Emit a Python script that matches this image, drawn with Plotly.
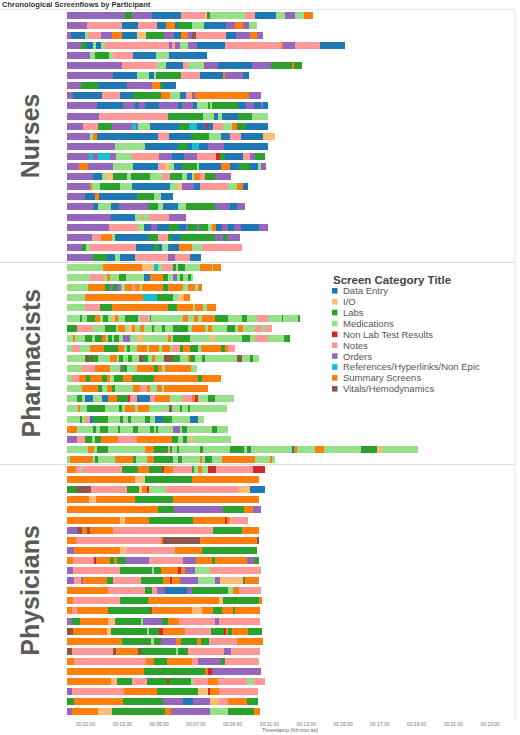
import plotly.graph_objects as go

# ---------------- data ----------------
categories = ["Data Entry", "I/O", "Labs", "Medications", "Non Lab Test Results", "Notes",
              "Orders", "References/Hyperlinks/Non Epic", "Summary Screens", "Vitals/Hemodynamics"]
codes = ["D", "I", "L", "M", "X", "N", "O", "R", "S", "V"]
colors = ["#1f77b4", "#ffbb78", "#2ca02c", "#98df8a", "#d62728", "#ff9896",
          "#9467bd", "#17becf", "#ff7f0e", "#8c564b"]
groups = ["Nurses", "Pharmacists", "Physicians"]
group_prefix = ["N", "P", "H"]

# each participant: sequence of screens "<code><end timestamp in seconds>"
nurses = [
    "O189 L211 O278 D371 N451 I458 L466 M580 N612 D683 M710 O745 M772 S803",
    "O64 N178 D230 N292 D322 S352 D363 L407 M446 D517 O548 S575 O592 M619",
    "O13 D59 M67 N111 O146 S180 D227 I257 L317 O350 D371 S396 O407 V420 N517 D550 O598 S620 O638",
    "O46 L61 D86 M95 D111 M124 N333 O341 N352 O368 M393 O423 D515 N697 S705 O744 N825 D907",
    "O75 M91 L138 M149 N216 D289 M333 D455",
    "O180 N292 M322 D379 N393 M448 O491 D604 O665 L733 S741 L765",
    "O151 D227 M267 D282 M289 L372 N432 D507 S515 O575 D594",
    "O46 L100 D195 O278 S303 L314 D354",
    "O21 D113 N173 D216 L307 S336 M368 D387 N407 O417 S595 O633",
    "O97 D184 O222 D235 O254 D300 O361 D376 O412 D423 M459 L466 M474 L559 D583 O611 D633 O637 D657",
    "O105 N330 L445 M480 D491 M504 D559 L604 M657",
    "O53 N100 L146 O213 R224 O233 M271 D365 L398 R423 D452 X461 D477 N510 M537 S553 L583 D657",
    "O75 M86 S97 D298 N333 D404 L463 M502 D532 N567 D640 I678",
    "O157 M254 D363 L390 D409 R430 D459 O513 D654",
    "O72 R83 O100 R140 O159 M213 N300 O341 D380 O423 N485 X499 L515 D575 N597 O613 L644",
    "O39 S67 O151 M216 D296 N320 I333 M350 D376 L423 M430 D502 S532 D561 L597 D624 M633 O648",
    "O86 D115 M126 I151 L195 M209 L271 M309 N336 L376 M390 D407 M415 S434 N450 L483 O535",
    "O75 S80 M108 L173 M213 D336 M358 I376 O415 D434 N526 M553 S575 D589",
    "O59 D91 S104 D227 L285 M307 D345",
    "O86 D102 M143 D170 O265 L298 M314 D361 M387 L483 O532 D553 O580",
    "O143 D220 M243 N252 M267 N333 O387",
    "O137 N230 M252 D274 O292 D333 L365 D387 O396 L423 O430 L461 M474 S485 D504 O524 D546 O567 D626 O654",
    "O80 N111 S146 M157 D265 L298 N330 L341 D368 L483 O510 L521 O564",
    "O48 L61 M75 N224 D282 L300 D309 M328 D365 S407 M441 N570",
    "O83 L129 D157 M173 D220 N328 O352 N401 D437",
]
pharmacists = [
    "M118 S243 I282 R298 M309 N347 L358 M363 L385 M434 S472 M477 S502",
    "M75 N122 M129 S140 M170 L191 M252 D271 S314 L330 M347 O358 M368 L379 M393 L407 M412",
    "M67 S124 L140 O151 L162 O176 M189 S211 N222 S238 M243 S314 L330 S379 M396 S417 M428 S441",
    "M57 S249 R292 L347 M361 I383 S401",
    "M57 N108 L146 S328 L358 S412 M417 S445 M455 S485",
    "M42 L50 M64 L91 S108 M118 L135 M148 I157 S165 M189 L233 M238 N267 M271 L274 M379 S396 M415 S426 M439 S483 L524 M570 L586 M619 N657 M700 L705 M754 L760",
    "L32 N86 M124 L162 M167 S189 M200 I211 S222 M238 S252 M276 L285 M309 L320 M347 L396 M407 S450 M461 S472 M521 L548 M559 S575 M613 N635 M646 N670",
    "M21 S26 M59 L80 M91 L113 S126 M135 L146 M154 L170 M184 O205 M227 I249 M330 S339 M347 L401 M466 I483 M570 L597 M613 N657 M709 L727",
    "M15 N42 M75 S122 L165 S187 M195 L205 M227 S260 M267 S300 M309 S336 M341 N368 L379 S401 L428 M437 S502 L515 S526 N548",
    "M57 L64 V70 L80 V86 L102 M140 S162 M170 L181 M198 L211 M235 V249 L265 M278 S287 M317 V347 L368 M396 S401 L417 M439 L450 M554 V572 M597 L608 M626",
    "M48 N91 S140 M173 O180 L195 M227 S282 L298 S309 M320 S404 M423",
    "M15 N39 S61 L75 S113 L129 S140 I146 M154 L184 S211 L282 S428 L439 S502",
    "M48 S102 L113 M129 S146 L157 M216 S238 N260 S271 M292 S309 M317 S461",
    "M32 L48 M59 D86 M113 D133 S162 L200 X205 N227 D271 N287 S336 M376 N407 S417 X428 M461 L483 M546",
    "M35 S42 M64 L124 M170 L178 M189 S222 M233 S267 M333 V341 M368 L374 M393 L401 M521",
    "M42 L50 M59 N75 D86 L135 M173 L184 M200 L209 M254 L271 M287 D314 L343 M401 D426 M448",
    "S32 M86 L93 M108 L135 M167 L173 M216 L230 M271 L282 M289 L298 M347 O368 M376 L390 M472 L488 M524",
    "O32 N59 L80 M91 L111 S167 N227 S341 L363 M379 L390 M401 I412 M535",
    "M67 S89 M97 L135 M254 S282 L328 N336 L341 M358 L365 M434 L445 M532 L580 M586 L600 M733 D741 S749 M809 S839 M959 L1010 I1026 M1144",
    "M10 S86 M91 L100 M157 S216 L224 M260 S285 L347 M363 L376 M434 S439 M450 L472 M504 S613 M662 S670 M678",
]
physicians = [
    "S28 N42 M48 N178 L230 S267 L311 X317 S347 N407 L415 M426 S439 M461 X485 N608 X644",
    "S222 I254 L409 S626",
    "L28 V78 N195 L235 I243 S260 X267 M322 N559 I597 D646",
    "S72 I93 S222 L347 S626",
    "S296 L350 O507 L578 S608 O633",
    "S173 I189 S267 L412 S515 X521 S532 I539 N589",
    "O32 V50 S64 V75 S151 N477 L570 S626",
    "S28 N309 S314 V434 S619 V626",
    "O24 S173 I195 N352 S439 L619",
    "S21 N89 X96 S140 L154 S162 L191 O267 N379 O420 S472 L481 S586 O611 L626",
    "O21 N173 L278 M285 L307 S361 X372 S385 O417 M466 N633",
    "O24 N46 O53 S129 L151 N241 L314 S336 X343 S368 O426 M483 O499 I575 L580 S626",
    "S133 N254 L278 N292 O320 D390 O407 L526 M542 S561 N633",
    "S21 N173 L263 S494 I510 L629 S635",
    "S17 N32 S135 L271 V276 S407 I439 S477 L504 S542 L548 S629",
    "O17 L42 S133 I157 L243 M249 O309 L328 S365 N483 O496 N629",
    "V21 S129 I143 L260 M267 L300 X314 S385 N470 L513 X517 S524 L537 S591 L635",
    "S180 L276 M282 L307 O354 S372 L423 S437 L463 N553 S640",
    "V15 N151 V159 S230 V241 L358 M363 L396 N513 O535 N629",
    "S24 N257 S282 L325 S409 N426 O502 L515 N626",
    "S252 L450 S461 X472 O633",
    "S143 I162 L211 N260 L328 X333 L404 M412 N461 S491 N586 M611 N644",
    "O17 N187 S292 L426 I461 X466 S494 N624",
    "L24 S184 L314 O379 D412 O466 I494 N526 S586 L624",
    "O17 S100 I148 L320 S339 O466 M524 L611 S629",
]
tick_seconds = [60, 180, 300, 420, 540, 660, 780, 900, 1020, 1140, 1260, 1380]
tick_labels = ["00:01:00", "00:03:00", "00:05:00", "00:07:00", "00:09:00", "00:11:00",
               "00:13:00", "00:15:00", "00:17:00", "00:19:00", "00:21:00", "00:23:00"]

# ---------------- build ----------------
W, H = 520, 735
ML, MR, MT, MB = 0, 5, 9.5, 17.5
PW, PH = W - ML - MR, H - MT - MB


def px(x):
    return (x - ML) / PW


def py(y):
    return 1 - (y - MT) / PH


row_ids, group_rows = [], []
segs = {c: {"y": [], "base": [], "x": []} for c in codes}
for pre, seqs in zip(group_prefix, [nurses, pharmacists, physicians]):
    first = len(row_ids)
    for i, s in enumerate(seqs):
        rid = f"{pre}{i + 1:02d}"
        row_ids.append(rid)
        prev = 0
        for tok in s.split():
            c, end = tok[0], int(tok[1:])
            segs[c]["y"].append(rid)
            segs[c]["base"].append(prev)
            segs[c]["x"].append(end - prev)
            prev = end
    group_rows.append((first, len(row_ids) - 1))

fig = go.Figure()
for c, name, col in zip(codes, categories, colors):
    fig.add_trace(go.Bar(
        orientation="h", y=segs[c]["y"], x=segs[c]["x"], base=segs[c]["base"],
        name=name, marker=dict(color=col, line=dict(width=0)), width=0.7,
        showlegend=False, hovertemplate=name + "<extra></extra>"))

n = len(row_ids)
shapes = []
shapes.append(dict(type="line", xref="paper", yref="paper", x0=0, x1=1, y0=py(9), y1=py(9),
                   line=dict(color="#e4e4e4", width=1)))
for first, last in group_rows[1:]:
    shapes.append(dict(type="line", xref="paper", yref="y", x0=0, x1=1, y0=first - 0.5, y1=first - 0.5,
                       line=dict(color="#dcdcdc", width=1)))
shapes.append(dict(type="line", xref="paper", yref="paper", x0=1, x1=1, y0=py(9), y1=py(719),
                   line=dict(color="#e4e4e4", width=1)))

annotations = []
for g, (first, last) in zip(groups, group_rows):
    annotations.append(dict(xref="paper", yref="y", x=px(30), y=(first + last) / 2, text=g,
                            textangle=-90, showarrow=False, xanchor="center", yanchor="middle",
                            font=dict(family="Liberation Sans", size=25, color="#5a5a5a", weight="bold")))

# legend (drawn manually for compact spacing)
annotations.append(dict(xref="paper", yref="paper", x=px(331), y=py(280), text="Screen Category Title",
                        showarrow=False, xanchor="left", yanchor="middle",
                        font=dict(family="Liberation Sans", size=11.5, color="#444444", weight="bold")))
for i, (name, col) in enumerate(zip(categories, colors)):
    yc = 290.7 + 10.9 * i
    shapes.append(dict(type="rect", xref="paper", yref="paper", x0=px(332), x1=px(337.5),
                       y0=py(yc - 2.8), y1=py(yc + 2.8), fillcolor=col, line=dict(width=0)))
    annotations.append(dict(xref="paper", yref="paper", x=px(340.5), y=py(yc), text=name,
                            showarrow=False, xanchor="left", yanchor="middle",
                            font=dict(family="Liberation Sans", size=9.5, color="#555555")))

annotations.append(dict(xref="paper", yref="paper", x=px(290), y=py(731), text="Timestamp (hh:mm:ss)",
                        showarrow=False, xanchor="center", yanchor="middle",
                        font=dict(family="Liberation Sans", size=5.5, color="#666666")))

fig.update_layout(
    width=W, height=H, margin=dict(l=ML, r=MR, t=MT, b=MB, pad=0),
    paper_bgcolor="white", plot_bgcolor="white", barmode="overlay", bargap=0,
    title=dict(text="Chronological Screenflows by Participant", x=2 / W, xanchor="left",
               y=1 - 4 / H, yanchor="middle", xref="container", yref="container",
               font=dict(family="Liberation Sans", size=7.5, color="#333333", weight="bold")),
    xaxis=dict(range=[-23, 1461], domain=[px(60), 1], tickvals=tick_seconds, ticktext=tick_labels,
               showgrid=False, zeroline=False, showline=False, ticks="", ticklabelstandoff=3,
               tickfont=dict(family="Liberation Sans", size=5, color="#777777")),
    yaxis=dict(type="category", categoryorder="array", categoryarray=row_ids,
               range=[n - 0.5, -0.5], showticklabels=False, showgrid=False, zeroline=False),
    shapes=shapes, annotations=annotations, showlegend=False,
)

fig.write_html("out.html", config={"displayModeBar": False},
               post_script="document.body.style.margin='0';document.body.style.overflow='hidden';")
